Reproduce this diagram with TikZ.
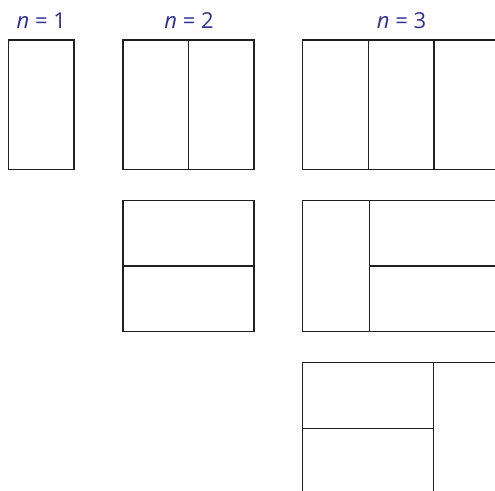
\documentclass[tikz,border=0pt]{standalone}
\usepackage{fontspec}
\setmainfont{Open Sans}
\definecolor{lblue}{HTML}{2E3192}
\definecolor{lgray}{HTML}{231F20}
\begin{document}
\begin{tikzpicture}[x=1pt,y=-1pt,
  cell/.style={draw=lgray,line width=1.5pt},
  lbl/.style={text=lblue,font=\fontsize{22}{26}\selectfont,anchor=base,inner sep=0pt}]
\useasboundingbox (0,0) rectangle (495,490);
\clip (0,0) rectangle (495,490);
% labels
\node[lbl] (l1) at (41.3,28.3) {\textit{n} = 1};
\node[lbl] (l2) at (189,28.3) {\textit{n} = 2};
\node[lbl] (l3) at (401.5,28.3) {\textit{n} = 3};
% row 1
\draw[cell] (8.3,40) rectangle (74,169.3);
\draw[cell] (123,40) rectangle (254,169.3);
\draw[cell] (188.7,40) -- (188.7,169.3);
\draw[cell] (302.7,40) rectangle (510,169.3);
\draw[cell] (368.7,40) -- (368.7,169.3);
\draw[cell] (434,40) -- (434,169.3);
% row 2
\draw[cell] (123,200.7) rectangle (254,331.7);
\draw[cell] (123,266) -- (254,266);
\draw[cell] (302.7,200.7) rectangle (510,331.7);
\draw[cell] (369.3,200.7) -- (369.3,331.7);
\draw[cell] (369.3,266) -- (510,266);
% row 3
\draw[cell] (302.7,362.3) rectangle (510,510);
\draw[cell] (302.7,428.3) -- (433.3,428.3);
\draw[cell] (433.3,362.3) -- (433.3,510);
\end{tikzpicture}
\end{document}
